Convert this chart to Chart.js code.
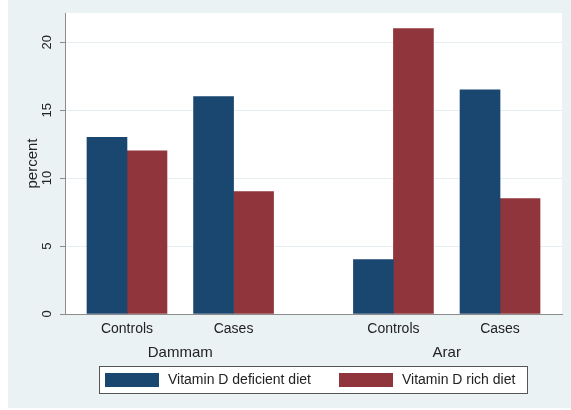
<!DOCTYPE html>
<html>
<head>
<meta charset="utf-8">
<script src="https://cdn.jsdelivr.net/npm/chart.js@4.4.1/dist/chart.umd.min.js"></script>
<style>
    html, body { margin: 0; padding: 0; background: #ffffff; }
    #caixa { width: 571px; height: 410px; }
</style>
</head>
<body>
<div id="caixa"><canvas id="grafico" width="571" height="410"></canvas></div>
<script>

const cidades = ['Dammam', 'Arar'];

const grupos = ['Controls', 'Cases'];

const series = ['Vitamin D deficient diet', 'Vitamin D rich diet'];

// percent, na ordem Dammam Controls, Dammam Cases, Arar Controls, Arar Cases
const deficiente = [13, 16, 4, 16.5];

const rica = [12, 9, 21, 8.5];

const marcasY = [0, 5, 10, 15, 20];

const cores = ['#1a476f', '#90353b'];

document.addEventListener('DOMContentLoaded', function () {

    const contexto = document.getElementById('grafico').getContext('2d');

    const fonte = '"Liberation Sans", Arial, sans-serif';

    const corTexto = '#222222';

    // posicao de cada par de barras no eixo x (grupo a grupo, com folga entre cidades)
    const passoGrupo = 2;
    const passoCidade = 5;

    const posicoes = [];
    const rotulos = [];

    cidades.forEach((cidade, c) => {
        grupos.forEach((grupo, g) => {
            posicoes.push(c * passoCidade + g * passoGrupo);
            rotulos.push(grupo);
        });
    });

    function montarPontos(valores) {
        return valores.map((v, i) => ({ x: posicoes[i], y: v }));
    }

    const fundo = {
        id: 'fundo',
        beforeDraw(chart) {
            const ctx = chart.ctx;
            const area = chart.chartArea;
            ctx.save();
            ctx.fillStyle = '#ffffff';
            ctx.fillRect(0, 0, chart.width, chart.height);
            ctx.fillStyle = '#eaf2f3';
            ctx.fillRect(8, 0, chart.width - 8, chart.height - 2);
            ctx.fillStyle = '#ffffff';
            ctx.fillRect(area.left, area.top, area.right - area.left, area.bottom - area.top);
            ctx.restore();
        }
    };

    const textos = {
        id: 'textos',
        afterDraw(chart) {
            const ctx = chart.ctx;
            const x = chart.scales.x;
            const y = chart.scales.y;
            const area = chart.chartArea;

            ctx.save();
            ctx.fillStyle = corTexto;
            ctx.textAlign = 'center';
            ctx.textBaseline = 'middle';

            // rotulos do eixo y, em pe
            ctx.font = '13px ' + fonte;
            marcasY.forEach(v => {
                ctx.save();
                ctx.translate(47, y.getPixelForValue(v));
                ctx.rotate(-Math.PI / 2);
                ctx.fillText(String(v), 0, 0);
                ctx.restore();
            });

            ctx.font = '15px ' + fonte;
            ctx.save();
            ctx.translate(33, (area.top + area.bottom) / 2);
            ctx.rotate(-Math.PI / 2);
            ctx.fillText('percent', 0, 0);
            ctx.restore();

            // grupos e cidades
            ctx.font = '14px ' + fonte;
            rotulos.forEach((r, i) => {
                ctx.fillText(r, x.getPixelForValue(posicoes[i]), 329);
            });

            ctx.font = '15px ' + fonte;
            cidades.forEach((cidade, c) => {
                const meio = (posicoes[c * grupos.length] + posicoes[c * grupos.length + grupos.length - 1]) / 2;
                ctx.fillText(cidade, x.getPixelForValue(meio), 353);
            });

            // legenda
            ctx.fillStyle = '#ffffff';
            ctx.fillRect(99.5, 366.5, 428, 27);
            ctx.strokeStyle = '#555555';
            ctx.lineWidth = 1;
            ctx.strokeRect(99.5, 366.5, 428, 27);

            const itens = [
                { caixa: 105, texto: 168 },
                { caixa: 339, texto: 402 }
            ];

            ctx.font = '14px ' + fonte;
            ctx.textAlign = 'left';
            chart.data.datasets.forEach((ds, i) => {
                ctx.fillStyle = ds.backgroundColor;
                ctx.fillRect(itens[i].caixa, 373, 54, 14);
                ctx.fillStyle = corTexto;
                ctx.fillText(ds.label, itens[i].texto, 380.5);
            });

            ctx.restore();
        }
    };

    new Chart(contexto, {

        type: 'bar',

        data: {
            datasets: [
                {
                    label: series[0],
                    data: montarPontos(deficiente),
                    backgroundColor: cores[0],
                    borderWidth: 0
                },
                {
                    label: series[1],
                    data: montarPontos(rica),
                    backgroundColor: cores[1],
                    borderWidth: 0
                }
            ]
        },

        options: {

            responsive: false,

            animation: false,

            barThickness: 40,

            layout: {
                padding: { top: 13, right: 9, left: 0, bottom: 0 }
            },

            plugins: {
                legend: { display: false },
                tooltip: { enabled: false }
            },

            scales: {

                x: {
                    type: 'linear',
                    offset: false,
                    min: -1.163,
                    max: 8.163,
                    grid: { display: false, offset: false },
                    border: { display: true, color: '#8c8c8c', width: 1 },
                    ticks: { display: false },
                    afterFit: s => { s.height = 96; }
                },

                y: {
                    min: 0,
                    max: 22.15,
                    afterBuildTicks: s => { s.ticks = marcasY.map(v => ({ value: v })); },
                    grid: {
                        color: '#e6eef1',
                        tickColor: '#8c8c8c',
                        tickLength: 5,
                        drawTicks: true
                    },
                    border: { display: true, color: '#8c8c8c', width: 1 },
                    ticks: { display: false },
                    afterFit: s => { s.width = 65; }
                }

            }

        },

        plugins: [fundo, textos]

    });

});
</script>
</body>
</html>
